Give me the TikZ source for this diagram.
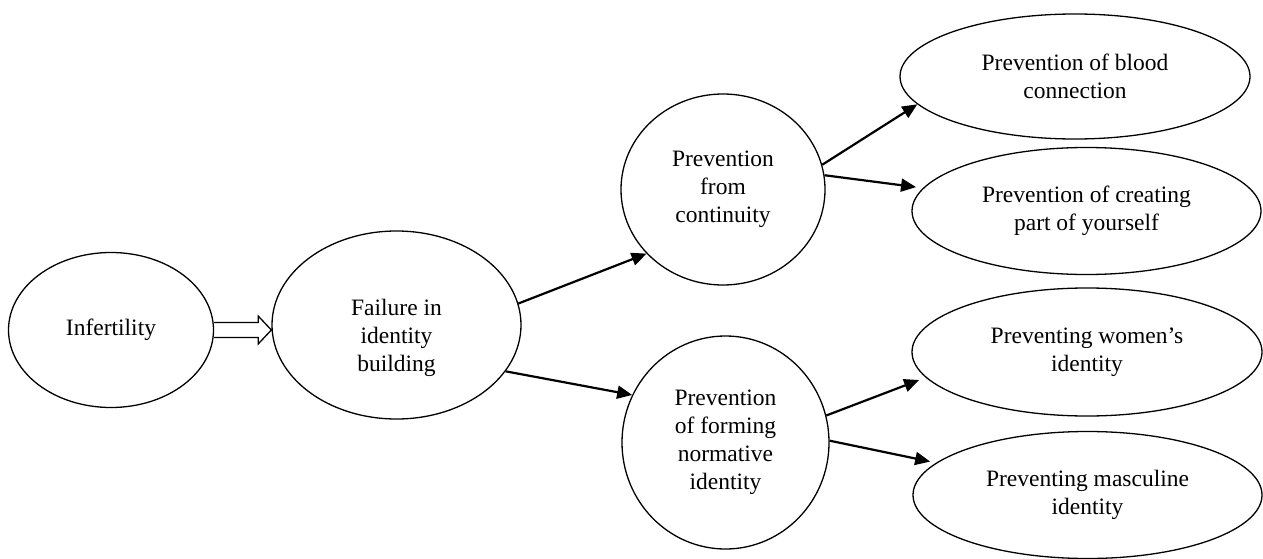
\documentclass[tikz,border=0pt]{standalone}
\usepackage{fontspec}
\setmainfont{Liberation Serif}
\usetikzlibrary{arrows.meta,shapes.geometric,calc}
\begin{document}
\begin{tikzpicture}[x=1pt,y=-1pt,
  ell/.style={draw, ellipse, line width=1.3pt, inner sep=0pt, align=center,
    font=\fontsize{23.5pt}{28pt}\selectfont},
  txt/.style={inner sep=0pt, align=center, font=\fontsize{23.5pt}{28pt}\selectfont},
  link/.style={line width=2.2pt, -{Triangle[length=15pt,width=13pt]}},
  blockarrow/.style={line width=1.3pt, line join=miter}]
\useasboundingbox (0,0) rectangle (1263,559);

\node[ell, minimum width=205pt, minimum height=155pt] (inf) at (111,330) {Infertility};
\node[ell, minimum width=249pt, minimum height=188pt] (fail) at (396.5,325) {};
\node[txt] (failtext) at (396.5,338) {Failure in\\identity\\building};
\node[ell, minimum width=204pt, minimum height=191pt] (cont) at (723,189.5) {Prevention\\from\\continuity};
\node[ell, minimum width=207pt, minimum height=213pt] (norm) at (725.5,442.5) {Prevention\\of forming\\normative\\identity};
\node[ell, minimum width=350pt, minimum height=125pt] (blood) at (1075,76.5) {Prevention of blood\\connection};
\node[ell, minimum width=349pt, minimum height=127pt] (create) at (1086.5,211) {Prevention of creating\\part of yourself};
\node[ell, minimum width=350pt, minimum height=128pt] (women) at (1087,352) {Preventing women’s\\identity};
\node[ell, minimum width=349pt, minimum height=127pt] (masc) at (1087.5,495) {Preventing masculine\\identity};

% hollow block arrow
\draw[blockarrow] ($(inf.east)+(0,-7.5)$) -- ++(44,0) -- ++(0,-6.5)
  -- (fail.west |- inf.east) -- ($(inf.east)+(44,14)$) -- ++(0,-6.5) -- ++(-44,0);

\draw[link] (fail.10) -- (cont.220);
\draw[link] (fail.-23) -- (norm.153);
\draw[link] (cont.14) -- (blood.190.6);
\draw[link, shorten >=7pt] (cont.8.7) -- (create.172.3);
\draw[link, shorten >=7pt] (norm.15.7) -- (women.189.6);
\draw[link, shorten >=6pt] (norm.1.6) -- (masc.168.5);
\end{tikzpicture}
\end{document}
